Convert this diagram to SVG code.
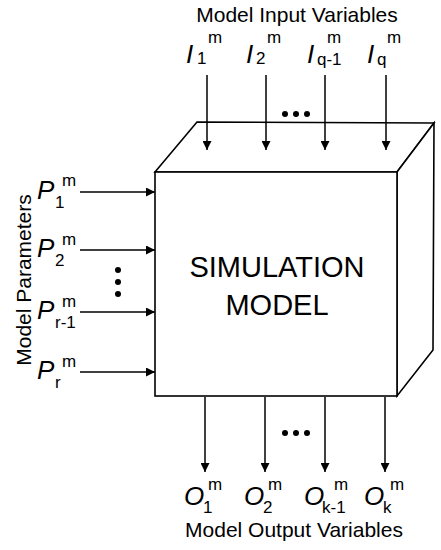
<svg xmlns="http://www.w3.org/2000/svg" width="441" height="550" viewBox="0 0 441 550">
<defs>
<style>
.t{font-family:"Liberation Sans",Arial,sans-serif;fill:#000}
.lab{font-size:21px}
.big{font-size:26px;font-style:italic}
.sub{font-size:17px}
.sup{font-size:17px}
.ttl{font-size:29px}
.ln{stroke:#000;stroke-width:1.5;fill:none}
.box{stroke:#000;stroke-width:1.6;fill:#fff;stroke-linejoin:miter}
</style>
<marker id="ah" viewBox="0 0 10 10" refX="10" refY="5" markerWidth="12" markerHeight="9" markerUnits="userSpaceOnUse" orient="auto">
<path d="M0,0 L10,5 L0,10 Z" fill="#000"/>
</marker>
</defs>
<rect width="441" height="550" fill="#fff"/>

<g id="model">
<polygon class="box" points="155,172 197,122 434,123 397,172"/>
<polygon class="box" points="397,172 434,123 433,350 397,396"/>
<rect class="box" x="155" y="172" width="242" height="224"/>
<text class="t ttl" x="277" y="277" text-anchor="middle">SIMULATION</text>
<text class="t ttl" x="277" y="315" text-anchor="middle">MODEL</text>
</g>

<g id="connectors">
<line class="ln" x1="207" y1="75" x2="207" y2="150" marker-end="url(#ah)"/>
<line class="ln" x1="266" y1="75" x2="266" y2="150" marker-end="url(#ah)"/>
<line class="ln" x1="325" y1="75" x2="325" y2="150" marker-end="url(#ah)"/>
<line class="ln" x1="386" y1="75" x2="386" y2="150" marker-end="url(#ah)"/>
<line class="ln" x1="80" y1="192" x2="155" y2="192" marker-end="url(#ah)"/>
<line class="ln" x1="80" y1="250" x2="155" y2="250" marker-end="url(#ah)"/>
<line class="ln" x1="80" y1="312" x2="155" y2="312" marker-end="url(#ah)"/>
<line class="ln" x1="80" y1="372" x2="155" y2="372" marker-end="url(#ah)"/>
<line class="ln" x1="205" y1="397" x2="205" y2="472" marker-end="url(#ah)"/>
<line class="ln" x1="265" y1="397" x2="265" y2="472" marker-end="url(#ah)"/>
<line class="ln" x1="325" y1="397" x2="325" y2="472" marker-end="url(#ah)"/>
<line class="ln" x1="385" y1="397" x2="385" y2="472" marker-end="url(#ah)"/>
</g>

<g id="ellipses" fill="#000">
<circle cx="285" cy="114" r="3"/><circle cx="296" cy="114" r="3"/><circle cx="307" cy="114" r="3"/>
<circle cx="285" cy="433" r="3"/><circle cx="296" cy="433" r="3"/><circle cx="307" cy="433" r="3"/>
<circle cx="118" cy="270" r="3"/><circle cx="118" cy="282" r="3"/><circle cx="118" cy="294" r="3"/>
</g>

<g id="inputs">
<text class="t lab" x="297" y="22" text-anchor="middle">Model Input Variables</text>
<text class="t big" x="186" y="63">I</text><text class="t sub" x="197" y="64">1</text><text class="t sup" x="208" y="43">m</text>
<text class="t big" x="246" y="63">I</text><text class="t sub" x="256" y="64">2</text><text class="t sup" x="267" y="43">m</text>
<text class="t big" x="307" y="63">I</text><text class="t sub" x="317" y="65">q-1</text><text class="t sup" x="327" y="43">m</text>
<text class="t big" x="367" y="63">I</text><text class="t sub" x="377" y="65">q</text><text class="t sup" x="387" y="43">m</text>
</g>

<g id="parameters">
<text class="t lab" transform="translate(31,280) rotate(-90)" text-anchor="middle">Model Parameters</text>
<text class="t big" x="37" y="199">P</text><text class="t sub" x="55" y="208">1</text><text class="t sup" x="62" y="186">m</text>
<text class="t big" x="37" y="257">P</text><text class="t sub" x="55" y="266">2</text><text class="t sup" x="62" y="245">m</text>
<text class="t big" x="37" y="319">P</text><text class="t sub" x="55" y="328">r-1</text><text class="t sup" x="62" y="307">m</text>
<text class="t big" x="37" y="379">P</text><text class="t sub" x="55" y="388">r</text><text class="t sup" x="62" y="367">m</text>
</g>

<g id="outputs">
<text class="t big" x="184" y="505">O</text><text class="t sub" x="203" y="513">1</text><text class="t sup" x="208" y="490">m</text>
<text class="t big" x="244" y="505">O</text><text class="t sub" x="263" y="513">2</text><text class="t sup" x="268" y="490">m</text>
<text class="t big" x="304" y="505">O</text><text class="t sub" x="322" y="513">k-1</text><text class="t sup" x="334" y="490">m</text>
<text class="t big" x="364" y="505">O</text><text class="t sub" x="383" y="513">k</text><text class="t sup" x="390" y="490">m</text>
<text class="t lab" x="294" y="537" text-anchor="middle">Model Output Variables</text>
</g>
</svg>
